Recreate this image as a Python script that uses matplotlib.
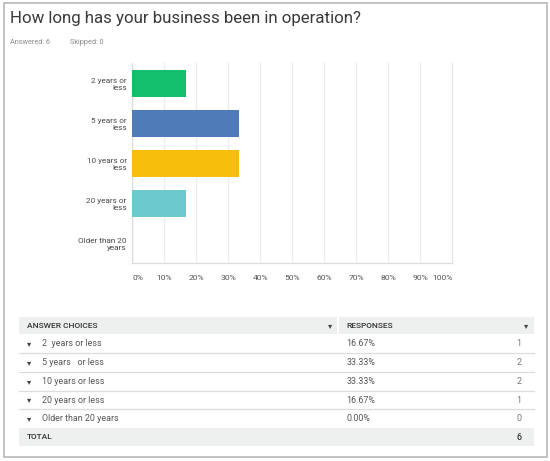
import matplotlib
matplotlib.use("Agg")
import matplotlib.pyplot as plt
from matplotlib.patches import Rectangle

# ---- data ----
categories = ["2 years or\nless", "5 years or\nless", "10 years or\nless",
              "20 years or\nless", "Older than 20\nyears"]
percent = [16.67, 33.33, 33.33, 16.67, 0.0]
bar_colors = ["#13bf6c", "#4f7bb8", "#f8be0c", "#6ccacd", "#a0a0a0"]
xticks = [0, 10, 20, 30, 40, 50, 60, 70, 80, 90, 100]
xtick_labels = ["0%", "10%", "20%", "30%", "40%", "50%", "60%", "70%", "80%", "90%", "100%"]
table_choices = ["2  years or less", "5 years   or less", "10 years or less",
                 "20 years or less", "Older than 20 years"]
table_pct = ["16.67%", "33.33%", "33.33%", "16.67%", "0.00%"]
table_counts = [1, 2, 2, 1, 0]
total = 6
title = "How long has your business been in operation?"
answered = 6
skipped = 0

W, H = 550, 461
fig = plt.figure(figsize=(W / 100, H / 100), dpi=100)
fig.patch.set_facecolor("white")

# overlay axes in pixel coordinates
ov = fig.add_axes([0, 0, 1, 1])
ov.set_xlim(0, W)
ov.set_ylim(H, 0)
ov.axis("off")

FONT = "Roboto"

# outer border
ov.add_patch(Rectangle((3.5, 3.5), 543.2, 453.5, fill=False, edgecolor="#bdbdbd", lw=1.3))

ov.text(10.5, 18, title, fontsize=12.2, family=FONT, fontweight="normal",
        color="#3a3a3a", va="center", ha="left")
ov.text(10.5, 42, f"Answered: {answered}", fontsize=5.2, family=FONT,
        color="#8a8a8a", va="center", ha="left")
ov.text(70, 42, f"Skipped: {skipped}", fontsize=5.2, family=FONT,
        color="#8a8a8a", va="center", ha="left")

# ---- bar chart ----
L, R, T, B = 132.3, 452.3, 63.3, 263.3
ax = fig.add_axes([L / W, (H - B) / H, (R - L) / W, (B - T) / H])
y = list(range(len(categories)))
ax.barh(y, percent, height=0.667, color=bar_colors, zorder=3)
ax.set_ylim(len(categories) - 0.5, -0.5)
ax.set_xlim(0, 100)
ax.set_xticks(xticks)
ax.set_xticklabels(xtick_labels, fontsize=6.1, family=FONT, color="#555555")
ax.set_yticks(y)
ax.set_yticklabels(categories, fontsize=5.9, family=FONT, color="#4a4a4a",
                   linespacing=1.3)
ax.tick_params(axis="both", length=0)
ax.tick_params(axis="x", pad=8.5)
ax.tick_params(axis="y", pad=4)
tl = ax.get_xticklabels()
tl[0].set_ha("left")
tl[-1].set_ha("right")
ax.grid(axis="x", color="#ececec", lw=0.9, zorder=0)
ax.spines["top"].set_visible(False)
ax.spines["left"].set_color("#dcdcdc")
ax.spines["bottom"].set_color("#dcdcdc")
ax.spines["right"].set_color("#e6e6e6")
for s in ax.spines.values():
    s.set_linewidth(0.9)

# ---- table ----
tx0, tx1 = 19, 534
col_div = 338
hdr_top, hdr_bot = 316.7, 334.3
row_lines = [353.3, 371.7, 390.7, 409.3, 428.3]
tot_bot = 446
fill = "#eeefef"
ov.add_patch(Rectangle((tx0, hdr_top), col_div - tx0 - 0.8, hdr_bot - hdr_top,
                       facecolor=fill, edgecolor="none"))
ov.add_patch(Rectangle((col_div + 0.8, hdr_top), tx1 - col_div - 0.8, hdr_bot - hdr_top,
                       facecolor=fill, edgecolor="none"))
ov.add_patch(Rectangle((tx0, row_lines[-1]), tx1 - tx0, tot_bot - row_lines[-1],
                       facecolor=fill, edgecolor="none"))
for yl in row_lines[:-1]:
    ov.plot([tx0, tx1], [yl, yl], color="#dddddd", lw=0.9)

hy = (hdr_top + hdr_bot) / 2
ov.text(26.7, hy, "ANSWER CHOICES", fontsize=6.0, family=FONT, fontweight="medium",
        color="#333333", va="center", ha="left")
ov.text(346.7, hy, "RESPONSES", fontsize=6.0, family=FONT, fontweight="medium",
        color="#333333", va="center", ha="left")
ov.text(330, hy, "\u25BE", fontsize=6, family="DejaVu Sans", color="#444444",
        va="center", ha="center")
ov.text(526, hy, "\u25BE", fontsize=6, family="DejaVu Sans", color="#444444",
        va="center", ha="center")

tops = [hdr_bot] + row_lines
for i, (c, p, n) in enumerate(zip(table_choices, table_pct, table_counts)):
    cy = (tops[i] + tops[i + 1]) / 2
    ov.text(29, cy, "\u25BE", fontsize=6, family="DejaVu Sans", color="#444444",
            va="center", ha="center")
    ov.text(41.7, cy, c, fontsize=6.4, family=FONT, color="#555555",
            va="center", ha="left")
    ov.text(346.7, cy, p, fontsize=6.4, family=FONT, color="#555555",
            va="center", ha="left")
    ov.text(521.5, cy, str(n), fontsize=6.4, family=FONT, color="#777777",
            va="center", ha="right")

ty = (row_lines[-1] + tot_bot) / 2
ov.text(26.7, ty, "TOTAL", fontsize=6.0, family=FONT, fontweight="medium",
        color="#333333", va="center", ha="left")
ov.text(521.5, ty, str(total), fontsize=6.4, family=FONT, fontweight="medium",
        color="#333333", va="center", ha="right")

fig.savefig("out.png", dpi=100, facecolor="white")
